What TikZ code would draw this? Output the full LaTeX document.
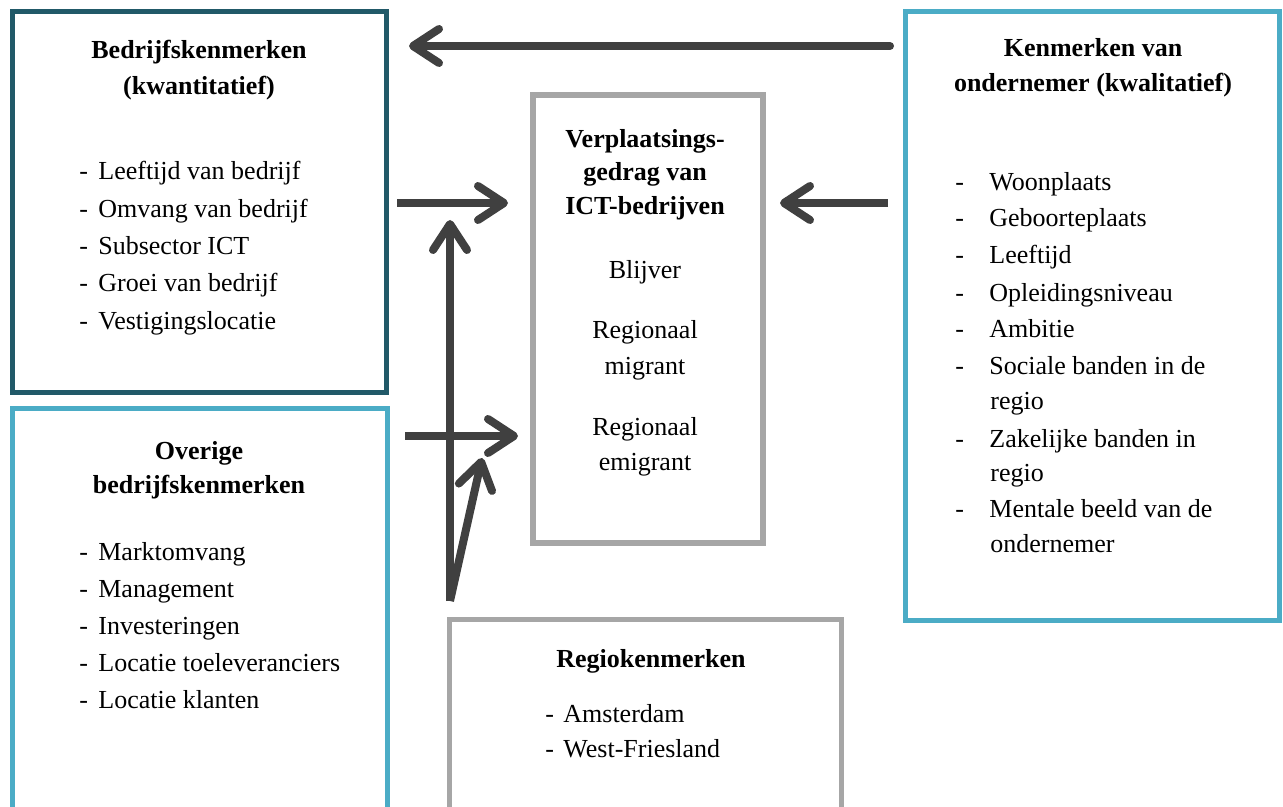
\documentclass[tikz,border=0pt]{standalone}
\usepackage{fontspec}
\setmainfont{Liberation Serif}
\usetikzlibrary{arrows.meta}
\definecolor{darkteal}{HTML}{215968}
\definecolor{lblue}{HTML}{4BACC6}
\definecolor{lgray}{HTML}{A6A6A6}
\definecolor{arrgray}{HTML}{404040}
\tikzset{
  frame/.style={draw, line width=2.5pt, anchor=north west, inner sep=0pt, outer sep=0pt},
  txt/.style={font=\fontsize{13}{18}\selectfont, inner sep=0pt, anchor=base},
  ttl/.style={font=\fontsize{13}{18}\selectfont\bfseries, inner sep=0pt, anchor=base},
  item/.style={font=\fontsize{13}{18}\selectfont, inner sep=0pt, anchor=base west},
  arr/.style={draw=arrgray, line width=4pt,
    -{Straight Barb[length=13pt,width=17pt,round]}},
}
\newcommand{\dashA}[1]{\makebox[9.5pt][l]{-}#1}
\newcommand{\dashB}[1]{\makebox[18pt][l]{\hspace{1pt}-}#1}
\newcommand{\dashC}[1]{\makebox[9pt][l]{-}#1}
\begin{document}
\begin{tikzpicture}[x=0.5pt,y=-0.5pt]
\useasboundingbox (0,0) rectangle (1283,807);
\clip (0,0) rectangle (1283,807);
\fill[white] (0,0) rectangle (1283,807);

% frames
\node[frame, draw=darkteal, minimum width=187pt, minimum height=190.5pt] (b1) at (12.5,11.5) {};
\node[frame, draw=lblue, minimum width=187.5pt, minimum height=211pt] (b2) at (12.5,408) {};
\node[frame, draw=lgray, line width=3pt, minimum width=115pt, minimum height=224pt] (c) at (533,95) {};
\node[frame, draw=lgray, minimum width=196pt, minimum height=110pt] (r) at (449.5,619.5) {};
\node[frame, draw=lblue, minimum width=187.25pt, minimum height=304pt] (k) at (905,12) {};

% box 1
\node[ttl] (b1t1) at (199,59) {Bedrijfskenmerken};
\node[ttl] (b1t2) at (199,95) {(kwantitatief)};
\node[item] (b1i1) at (79,180) {\dashA{Leeftijd van bedrijf}};
\node[item] (b1i2) at (79,218) {\dashA{Omvang van bedrijf}};
\node[item] (b1i3) at (79,255) {\dashA{Subsector ICT}};
\node[item] (b1i4) at (79,292) {\dashA{Groei van bedrijf}};
\node[item] (b1i5) at (79,329) {\dashA{Vestigingslocatie}};

% box 2
\node[ttl] (b2t1) at (199,459) {Overige};
\node[ttl] (b2t2) at (199,493) {bedrijfskenmerken};
\node[item] (b2i1) at (79,560) {\dashA{Marktomvang}};
\node[item] (b2i2) at (79,597) {\dashA{Management}};
\node[item] (b2i3) at (79,634) {\dashA{Investeringen}};
\node[item] (b2i4) at (79,671) {\dashA{Locatie toeleveranciers}};
\node[item] (b2i5) at (79,708) {\dashA{Locatie klanten}};

% center box
\node[ttl] (ct1) at (645,148) {Verplaatsings-};
\node[ttl] (ct2) at (645,181) {gedrag van};
\node[ttl] (ct3) at (645,215) {ICT-bedrijven};
\node[txt] (cb) at (645,279) {Blijver};
\node[txt] (cm1) at (645,338) {Regionaal};
\node[txt] (cm2) at (645,374) {migrant};
\node[txt] (ce1) at (645,435) {Regionaal};
\node[txt] (ce2) at (645,470) {emigrant};

% right box
\node[ttl] (kt1) at (1093,57) {Kenmerken van};
\node[ttl] (kt2) at (1093,92) {ondernemer (kwalitatief)};
\node[item] (ki1) at (953,191) {\dashB{Woonplaats}};
\node[item] (ki2) at (953,227) {\dashB{Geboorteplaats}};
\node[item] (ki3) at (953,264) {\dashB{Leeftijd}};
\node[item] (ki4) at (953,301) {\dashB{Opleidingsniveau}};
\node[item] (ki5) at (953,337) {\dashB{Ambitie}};
\node[item] (ki6) at (953,374) {\dashB{Sociale banden in de}};
\node[item] (ki6b) at (990,409) {regio};
\node[item] (ki7) at (953,447) {\dashB{Zakelijke banden in}};
\node[item] (ki7b) at (990,481) {regio};
\node[item] (ki8) at (953,517) {\dashB{Mentale beeld van de}};
\node[item] (ki8b) at (990,552) {ondernemer};

% regio box
\node[ttl] (rt) at (651,667) {Regiokenmerken};
\node[item] (ri1) at (545,722) {\dashC{Amsterdam}};
\node[item] (ri2) at (545,757) {\dashC{West-Friesland}};

% arrow end points
\coordinate (a1s) at (890,46);  \coordinate (a1e) at (409,46);
\coordinate (a2s) at (888,203); \coordinate (a2e) at (780,203);
\coordinate (a3s) at (397,203); \coordinate (a3e) at (508,203);
\coordinate (a4s) at (405,436); \coordinate (a4e) at (518,436);
\coordinate (a5s) at (450,601); \coordinate (a5e) at (450,220);
\coordinate (a6e) at (482,458);

\draw[arr, line cap=round] (a1s) -- (a1e);
\draw[arr] (a2s) -- (a2e);
\draw[arr] (a3s) -- (a3e);
\draw[arr] (a4s) -- (a4e);
\draw[arr] (a5s) -- (a5e);
\draw[arr] (a5s) -- (a6e);
\end{tikzpicture}
\end{document}
